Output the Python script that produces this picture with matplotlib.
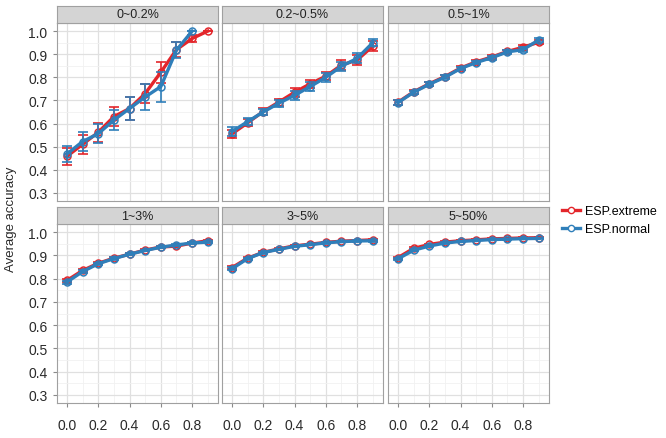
#################### Libraries
import numpy as np
import matplotlib.pyplot as plt
from matplotlib.lines import Line2D

plt.rcParams['font.family'] = ['Liberation Sans', 'DejaVu Sans']

#################### Data
panels = ['0~0.2%', '0.2~0.5%', '0.5~1%', '1~3%', '3~5%', '5~50%']
x = [0.0, 0.1, 0.2, 0.3, 0.4, 0.5, 0.6, 0.7, 0.8, 0.9]

ext_mean = [
    [0.458, 0.510, 0.562, 0.630, 0.665, 0.730, 0.822, 0.920, 0.968, 1.000],
    [0.555, 0.603, 0.652, 0.693, 0.735, 0.772, 0.805, 0.853, 0.875, 0.935],
    [0.692, 0.737, 0.772, 0.803, 0.840, 0.867, 0.888, 0.912, 0.930, 0.952],
    [0.792, 0.835, 0.866, 0.888, 0.905, 0.923, 0.936, 0.940, 0.953, 0.963],
    [0.847, 0.888, 0.913, 0.928, 0.941, 0.948, 0.956, 0.961, 0.964, 0.967],
    [0.890, 0.930, 0.947, 0.957, 0.963, 0.967, 0.971, 0.973, 0.975, 0.976],
]
ext_err = [
    [0.038, 0.040, 0.040, 0.040, 0.048, 0.042, 0.045, 0.032, 0.015, 0.0],
    [0.018, 0.015, 0.015, 0.015, 0.018, 0.018, 0.018, 0.020, 0.022, 0.020],
    [0.010, 0.008, 0.008, 0.008, 0.007, 0.008, 0.008, 0.008, 0.010, 0.010],
    [0.006, 0.006, 0.005, 0.005, 0.004, 0.004, 0.004, 0.004, 0.004, 0.005],
    [0.006, 0.004, 0.004, 0.003, 0.003, 0.003, 0.003, 0.003, 0.003, 0.004],
    [0.005, 0.004, 0.003, 0.003, 0.002, 0.002, 0.002, 0.002, 0.002, 0.002],
]

nor_mean = [
    [0.468, 0.522, 0.556, 0.615, 0.665, 0.715, 0.760, 0.918, 1.000],
    [0.565, 0.608, 0.650, 0.688, 0.722, 0.760, 0.800, 0.848, 0.882, 0.950],
    [0.690, 0.735, 0.770, 0.800, 0.838, 0.864, 0.885, 0.910, 0.920, 0.962],
    [0.785, 0.830, 0.864, 0.886, 0.905, 0.921, 0.935, 0.945, 0.953, 0.957],
    [0.842, 0.886, 0.912, 0.926, 0.939, 0.946, 0.954, 0.959, 0.962, 0.963],
    [0.885, 0.922, 0.940, 0.953, 0.960, 0.964, 0.968, 0.970, 0.972, 0.973],
]
nor_err = [
    [0.035, 0.040, 0.042, 0.045, 0.048, 0.055, 0.065, 0.035, 0.0],
    [0.018, 0.015, 0.015, 0.015, 0.018, 0.020, 0.020, 0.020, 0.022, 0.015],
    [0.010, 0.008, 0.008, 0.008, 0.007, 0.008, 0.008, 0.008, 0.010, 0.008],
    [0.006, 0.006, 0.005, 0.005, 0.004, 0.004, 0.004, 0.004, 0.004, 0.005],
    [0.006, 0.004, 0.004, 0.003, 0.003, 0.003, 0.003, 0.003, 0.003, 0.004],
    [0.005, 0.004, 0.003, 0.003, 0.002, 0.002, 0.002, 0.002, 0.002, 0.002],
]

series = ['ESP.extreme', 'ESP.normal']
colors = ['#e3262b', '#2f7fba']

#################### Layout (pixels of a 666x439 canvas)
W, H = 666, 439
fig = plt.figure(figsize=(W / 100, H / 100), dpi=100)

lefts = [57, 222, 388]
pw = 161
rows = [(24, 202), (225, 404)]
strip_h = 17

for i, name in enumerate(panels):
    r, c = divmod(i, 3)
    top, bot = rows[r]
    ax = fig.add_axes([lefts[c] / W, 1 - bot / H, pw / W, (bot - top) / H])
    st = fig.add_axes([lefts[c] / W, 1 - top / H, pw / W, strip_h / H])
    st.set_facecolor('#d4d4d4')
    st.set_xticks([])
    st.set_yticks([])
    for s in st.spines.values():
        s.set_color('#a0a0a0')
        s.set_linewidth(0.8)
    st.text(0.5, 0.5, name, ha='center', va='center', fontsize=9, color='#222222',
            transform=st.transAxes)

    # grid
    ax.set_xlim(-0.063, 0.965)
    ax.set_ylim(0.265, 1.035)
    ax.set_xticks([0.0, 0.2, 0.4, 0.6, 0.8])
    ax.set_xticks([0.1, 0.3, 0.5, 0.7, 0.9], minor=True)
    ax.set_yticks(np.arange(0.3, 1.01, 0.1))
    ax.set_yticks(np.arange(0.35, 1.0, 0.1), minor=True)
    ax.grid(which='major', color='#e0e0e0', linewidth=0.9)
    ax.grid(which='minor', color='#f1f1f1', linewidth=0.6)
    ax.set_axisbelow(True)
    for s in ax.spines.values():
        s.set_color('#a0a0a0')
        s.set_linewidth(0.8)
    ax.tick_params(which='minor', length=0)
    ax.tick_params(which='major', length=3, color='#8a8a8a', labelsize=10,
                   labelcolor='#2a2a2a', pad=4)
    if c != 0:
        ax.tick_params(axis='y', labelleft=False, length=0)
    if r == 0:
        ax.tick_params(axis='x', labelbottom=False, length=0)
    else:
        ax.tick_params(axis='x', pad=8)

    # data
    for means, errs, col, z in [(ext_mean, ext_err, colors[0], 3), (nor_mean, nor_err, colors[1], 4)]:
        m = means[i]
        e = errs[i]
        xx = x[:len(m)]
        ax.errorbar(xx, m, yerr=e, fmt='none', ecolor=col, elinewidth=1.2, capsize=3.8,
                    capthick=1.2, zorder=z)
        ax.plot(xx, m, '-', color=col, linewidth=2.4, zorder=z)
        ax.plot(xx, m, 'o', mfc='none', mec=col, ms=5, mew=1.1, zorder=z + 0.5)

fig.text(0.016, 0.5, 'Average accuracy', rotation=90, ha='center', va='center',
         fontsize=9.5, color='#2a2a2a')

handles = [Line2D([0], [0], color=col, lw=2.4, marker='o', ms=4.5, mfc='white', mec=col)
           for col in colors]
fig.legend(handles, series, loc='center left', bbox_to_anchor=(0.832, 0.496),
           frameon=False, fontsize=9, handlelength=1.5, handletextpad=0.4,
           labelspacing=0.5, borderaxespad=0.2)

plt.savefig('out.png', dpi=100)
